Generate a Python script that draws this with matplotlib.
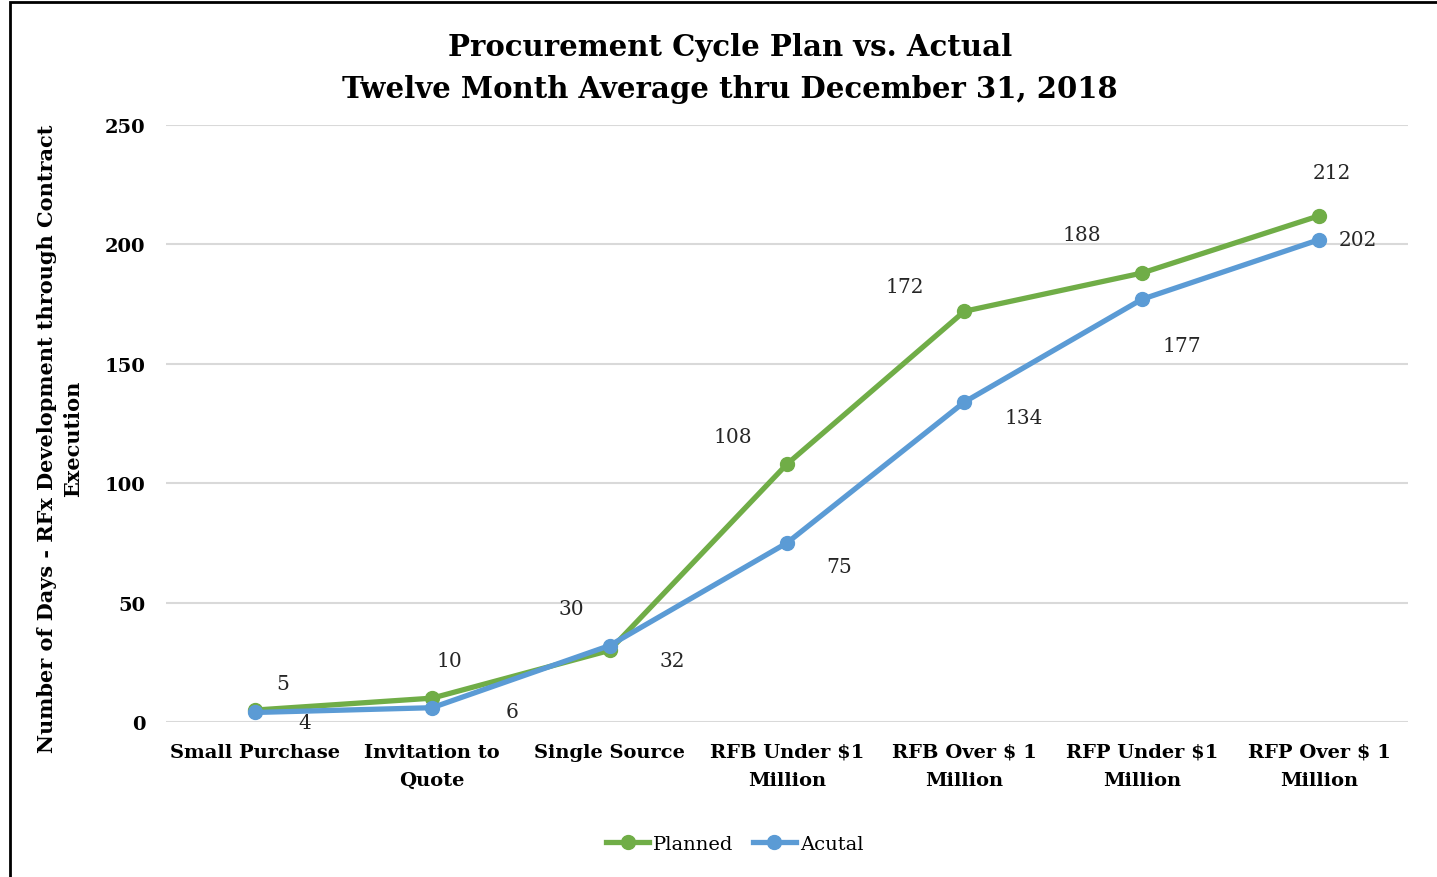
import matplotlib.pyplot as plt
from matplotlib.patches import Rectangle

categories = ['Small Purchase', 'Invitation to\nQuote', 'Single Source', 'RFB Under $1\nMillion',
              'RFB Over $ 1\nMillion', 'RFP Under $1\nMillion', 'RFP Over $ 1\nMillion']
planned = [5, 10, 30, 108, 172, 188, 212]
actual = [4, 6, 32, 75, 134, 177, 202]

# label offsets in pixels (manually placed in the original)
planned_off = [(28, 27), (17, 38), (-38, 42), (-54, 28), (-60, 25), (-60, 39), (13, 43)]
actual_off = [(50, -10), (80, -4), (63, -15), (52, -24), (59, -15), (40, -46), (39, 0)]

plt.rcParams['font.family'] = ['DejaVu Serif']

fig = plt.figure(figsize=(14.37, 8.78), dpi=100)
ax = fig.add_axes([0.1155, 0.1765, 0.8643, 0.68])

x = list(range(len(categories)))
green = '#70AD47'
blue = '#5B9BD5'
ax.plot(x, planned, color=green, lw=3.8, marker='o', ms=10, label='Planned', zorder=3)
ax.plot(x, actual, color=blue, lw=3.8, marker='o', ms=10, label='Acutal', zorder=4)

for i, v in enumerate(planned):
    ax.annotate(str(v), (i, v), xytext=planned_off[i], textcoords='offset pixels',
                ha='center', va='center', fontsize=14.5, color='#262626')
for i, v in enumerate(actual):
    ax.annotate(str(v), (i, v), xytext=actual_off[i], textcoords='offset pixels',
                ha='center', va='center', fontsize=14.5, color='#262626')

ax.set_xlim(-0.5, 6.5)
ax.set_ylim(0, 250)
ax.set_yticks([0, 50, 100, 150, 200, 250])
ax.set_xticks(x)
ax.set_xticklabels(categories, fontsize=14, fontweight='bold', linespacing=1.7)
ax.tick_params(axis='y', labelsize=14, length=0, pad=15)
ax.tick_params(axis='x', length=0, pad=15)
for lbl in ax.get_yticklabels():
    lbl.set_fontweight('bold')
ax.grid(axis='y', color='#D9D9D9', lw=1.5)
ax.set_axisbelow(True)
for s in ax.spines.values():
    s.set_visible(False)

fig.text(730 / 1437, 1 - 48 / 878, 'Procurement Cycle Plan vs. Actual', ha='center', va='center',
         fontsize=21, fontweight='bold')
fig.text(730 / 1437, 1 - 90 / 878, 'Twelve Month Average thru December 31, 2018', ha='center',
         va='center', fontsize=21, fontweight='bold')
fig.text(0.042, 0.50, 'Number of Days - RFx Development through Contract\nExecution',
         rotation=90, ha='center', va='center', fontsize=15, fontweight='bold',
         multialignment='center', linespacing=1.4)

ax.legend(loc='center', bbox_to_anchor=(0.458, -0.204), ncol=2, frameon=False, fontsize=14,
          handlelength=2.2, columnspacing=1.0, handletextpad=0.2)

fig.patches.append(Rectangle((10 / 1437, -0.1), 1.2, 1.1 - 3 / 878, transform=fig.transFigure,
                             fill=False, edgecolor='black', lw=2))

fig.savefig('out.png', dpi=100)
